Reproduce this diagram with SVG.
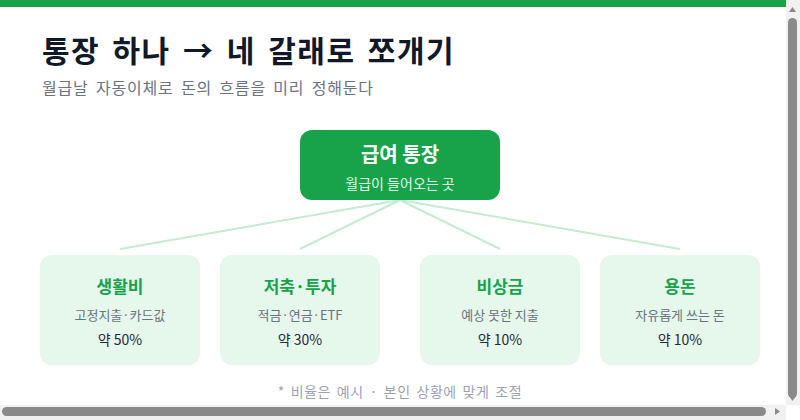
<svg xmlns="http://www.w3.org/2000/svg" width="800" height="420" viewBox="0 0 800 420">
<style>
.t{font-family:"Noto Sans CJK KR","Noto Sans",sans-serif}
.card{fill:#e6f7ec}
.ct{font-size:17px;font-weight:700;fill:#16a34a;text-anchor:middle}
.cd{font-size:13px;fill:#6b7280;text-anchor:middle}
.cp{font-size:14px;fill:#1f2937;text-anchor:middle}
.conn{stroke:#c6ead2;stroke-width:2;fill:none}
</style>
<rect width="800" height="420" fill="#fff"/>
<rect x="0" y="0" width="786" height="7" fill="#18a34a"/>
<text class="t" x="42" y="62" font-size="30" font-weight="700" fill="#111827" letter-spacing="1.5" word-spacing="4">통장 하나 → 네 갈래로 쪼개기</text>
<text class="t" x="42" y="94" font-size="16" fill="#6b7280" letter-spacing="0.8" word-spacing="3">월급날 자동이체로 돈의 흐름을 미리 정해둔다</text>
<g id="connectors">
<line class="conn" x1="400" y1="200" x2="120" y2="249"/>
<line class="conn" x1="400" y1="200" x2="300" y2="249"/>
<line class="conn" x1="400" y1="200" x2="500" y2="249"/>
<line class="conn" x1="400" y1="200" x2="680" y2="249"/>
</g>
<g id="salary">
<rect x="300" y="130" width="200" height="70" rx="12" fill="#18a34a"/>
<text class="t" x="400" y="162" font-size="20" font-weight="700" fill="#fff" text-anchor="middle">급여 통장</text>
<text class="t" x="400" y="189" font-size="14" fill="#dcfce7" text-anchor="middle">월급이 들어오는 곳</text>
</g>
<g id="living">
<rect class="card" x="40" y="255" width="160" height="110" rx="12"/>
<text class="t ct" x="120" y="293">생활비</text>
<text class="t cd" x="120" y="320">고정지출·카드값</text>
<text class="t cp" x="120" y="345">약 50%</text>
</g>
<g id="saving">
<rect class="card" x="220" y="255" width="160" height="110" rx="12"/>
<text class="t ct" x="300" y="293">저축·투자</text>
<text class="t cd" x="300" y="320">적금·연금·ETF</text>
<text class="t cp" x="300" y="345">약 30%</text>
</g>
<g id="emergency">
<rect class="card" x="420" y="255" width="160" height="110" rx="12"/>
<text class="t ct" x="500" y="293">비상금</text>
<text class="t cd" x="500" y="320">예상 못한 지출</text>
<text class="t cp" x="500" y="345">약 10%</text>
</g>
<g id="pocket">
<rect class="card" x="600" y="255" width="160" height="110" rx="12"/>
<text class="t ct" x="680" y="293">용돈</text>
<text class="t cd" x="680" y="320">자유롭게 쓰는 돈</text>
<text class="t cp" x="680" y="345">약 10%</text>
</g>
<text class="t" x="400" y="397" font-size="14" fill="#9ca3af" text-anchor="middle" letter-spacing="0.6" word-spacing="2">* 비율은 예시 · 본인 상황에 맞게 조절</text>
<g id="scrollbars">
<rect x="786" y="0" width="14" height="405" fill="#f1f1f1"/>
<rect x="0" y="405" width="786" height="15" fill="#f1f1f1"/>
<rect x="786" y="405" width="14" height="15" fill="#fff"/>
<rect x="788" y="18" width="9" height="380" rx="4.5" fill="#8a8a8a"/>
<rect x="2" y="407" width="764" height="9" rx="4.5" fill="#8a8a8a"/>
<path d="M789 12 L796 12 L792.5 7 Z" fill="#8a8a8a"/>
<path d="M789 396 L796 396 L792.5 401 Z" fill="#8a8a8a"/>
<path d="M775 408 L775 415 L780 411.5 Z" fill="#8a8a8a"/>
</g>
</svg>
